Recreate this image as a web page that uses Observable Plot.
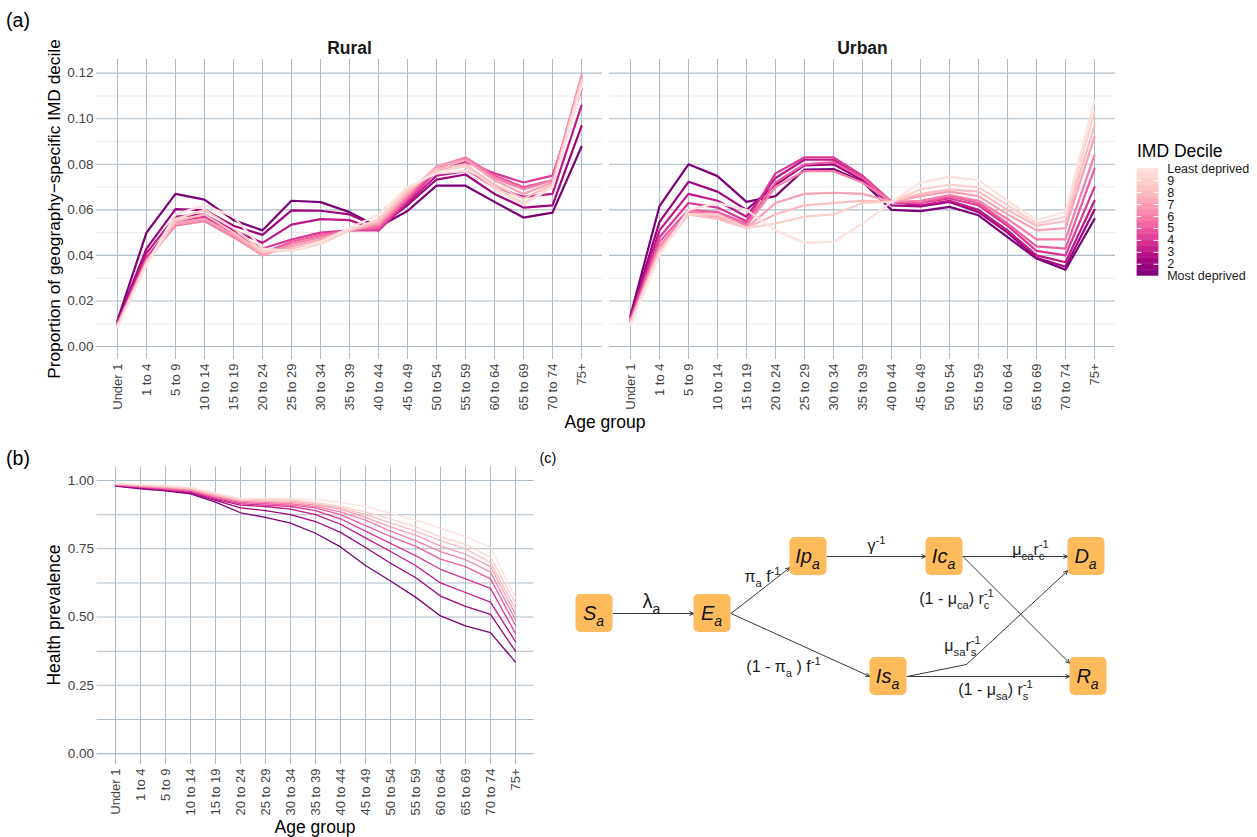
<!DOCTYPE html>
<html><head><meta charset="utf-8">
<script src="https://cdn.jsdelivr.net/npm/d3@7"></script>
<script src="https://cdn.jsdelivr.net/npm/@observablehq/plot@0.6"></script>
<style>
body{margin:0;background:#fff;}
#root{position:relative;width:1257px;height:837px;overflow:hidden;background:#fff;font-family:"Liberation Sans",Arial,Helvetica,sans-serif;color:#000;}
.abs{position:absolute;}
.lbl{position:absolute;white-space:nowrap;line-height:1;}
</style></head><body><div id="root"></div>
<script>
// ---------------- data ----------------
const ageGroups = ["Under 1","1 to 4","5 to 9","10 to 14","15 to 19","20 to 24","25 to 29","30 to 34","35 to 39","40 to 44","45 to 49","50 to 54","55 to 59","60 to 64","65 to 69","70 to 74","75+"];
const areas = ["Rural","Urban"];
const deciles = [1,2,3,4,5,6,7,8,9,10];
const decileLabels = ["Most deprived","2","3","4","5","6","7","8","9","Least deprived"];

// proportion of population by age group, one row per IMD decile (1 = most deprived)
const ruralShare = [
  [0.0115,0.050,0.067,0.0645,0.0555,0.051,0.064,0.0634,0.059,0.0525,0.0595,0.0706,0.0706,0.0635,0.0566,0.0588,0.0877],
  [0.0110,0.043,0.0603,0.0599,0.053,0.049,0.0598,0.0596,0.058,0.0525,0.062,0.0733,0.0755,0.067,0.061,0.062,0.0968],
  [0.0105,0.041,0.057,0.058,0.051,0.0455,0.0535,0.0559,0.0555,0.051,0.063,0.075,0.077,0.070,0.0657,0.067,0.1058],
  [0.0100,0.039,0.055,0.057,0.050,0.043,0.047,0.050,0.051,0.051,0.064,0.077,0.081,0.076,0.072,0.075,0.113],
  [0.0098,0.038,0.054,0.056,0.049,0.041,0.046,0.049,0.051,0.052,0.065,0.078,0.083,0.075,0.070,0.073,0.118],
  [0.0095,0.038,0.053,0.055,0.048,0.040,0.045,0.048,0.051,0.053,0.066,0.079,0.083,0.074,0.069,0.073,0.119],
  [0.0093,0.037,0.054,0.056,0.049,0.040,0.044,0.047,0.051,0.054,0.067,0.079,0.082,0.073,0.067,0.072,0.118],
  [0.0090,0.037,0.055,0.058,0.050,0.041,0.043,0.046,0.051,0.055,0.068,0.078,0.080,0.071,0.065,0.071,0.117],
  [0.0088,0.036,0.056,0.060,0.052,0.042,0.042,0.045,0.051,0.056,0.069,0.077,0.079,0.070,0.063,0.070,0.116],
  [0.0085,0.036,0.058,0.062,0.057,0.043,0.042,0.046,0.052,0.058,0.070,0.076,0.077,0.069,0.062,0.070,0.114]
];
const urbanShare = [
  [0.0136,0.0616,0.080,0.0748,0.0635,0.066,0.0777,0.0779,0.0723,0.060,0.0594,0.0613,0.0576,0.048,0.0386,0.0337,0.056],
  [0.0130,0.0547,0.0723,0.068,0.060,0.071,0.0795,0.080,0.073,0.062,0.0615,0.0635,0.059,0.050,0.039,0.035,0.060],
  [0.0125,0.051,0.067,0.064,0.057,0.074,0.082,0.082,0.074,0.0635,0.062,0.064,0.060,0.051,0.040,0.037,0.064],
  [0.0120,0.048,0.063,0.061,0.055,0.076,0.083,0.083,0.075,0.0635,0.063,0.065,0.062,0.053,0.042,0.040,0.070],
  [0.0115,0.046,0.060,0.059,0.054,0.072,0.080,0.081,0.074,0.0635,0.063,0.066,0.063,0.054,0.044,0.043,0.078],
  [0.0110,0.044,0.059,0.058,0.053,0.070,0.077,0.077,0.072,0.0635,0.064,0.0665,0.064,0.056,0.047,0.047,0.084],
  [0.0108,0.043,0.058,0.057,0.052,0.063,0.067,0.0675,0.067,0.0635,0.066,0.068,0.066,0.058,0.051,0.052,0.092],
  [0.0104,0.042,0.058,0.056,0.052,0.058,0.062,0.063,0.064,0.0635,0.067,0.069,0.068,0.060,0.053,0.055,0.097],
  [0.0100,0.041,0.058,0.058,0.052,0.054,0.057,0.058,0.063,0.0635,0.069,0.071,0.070,0.062,0.054,0.057,0.103],
  [0.0095,0.040,0.060,0.063,0.060,0.051,0.0455,0.046,0.054,0.0635,0.072,0.0745,0.073,0.064,0.0555,0.059,0.108]
];
// health prevalence by age group, one row per IMD decile
const healthPrevalence = [
  [0.980,0.970,0.962,0.951,0.921,0.882,0.865,0.844,0.807,0.757,0.689,0.632,0.573,0.504,0.468,0.443,0.335],
  [0.981,0.972,0.964,0.954,0.927,0.900,0.890,0.875,0.850,0.810,0.755,0.697,0.645,0.577,0.539,0.510,0.375],
  [0.982,0.974,0.966,0.957,0.931,0.910,0.905,0.895,0.875,0.840,0.790,0.740,0.689,0.625,0.590,0.555,0.410],
  [0.983,0.976,0.968,0.960,0.935,0.915,0.910,0.905,0.890,0.860,0.815,0.770,0.725,0.675,0.640,0.605,0.440],
  [0.984,0.977,0.970,0.962,0.938,0.920,0.915,0.910,0.900,0.875,0.835,0.795,0.760,0.712,0.685,0.640,0.470],
  [0.985,0.978,0.972,0.965,0.941,0.925,0.920,0.915,0.905,0.885,0.855,0.815,0.780,0.740,0.710,0.665,0.490],
  [0.986,0.980,0.975,0.968,0.945,0.925,0.925,0.920,0.910,0.895,0.865,0.830,0.800,0.760,0.730,0.685,0.510],
  [0.987,0.982,0.977,0.970,0.948,0.930,0.925,0.925,0.915,0.900,0.875,0.845,0.815,0.780,0.750,0.700,0.530],
  [0.988,0.984,0.979,0.972,0.951,0.930,0.930,0.930,0.920,0.905,0.885,0.860,0.830,0.795,0.765,0.720,0.550],
  [0.990,0.985,0.982,0.975,0.955,0.935,0.935,0.935,0.930,0.920,0.905,0.880,0.855,0.825,0.795,0.755,0.570]
];
const yTicksA = [0,0.02,0.04,0.06,0.08,0.10,0.12];
const yMinorA = [0.01,0.03,0.05,0.07,0.09,0.11];
const yTicksB = [0,0.25,0.5,0.75,1];
const yMinorB = [0.125,0.375,0.625,0.875];
const legendTicks = [2,3,4,5,6,7,8,9];

// compartment diagram (layout units)
const nodes = [
  {id:"S", label:"S_{a}", x:0, y:5.7},
  {id:"E", label:"E_{a}", x:11.8, y:5.7},
  {id:"Ip", label:"Ip_{a}", x:21.4, y:0},
  {id:"Ic", label:"Ic_{a}", x:35.0, y:0},
  {id:"D", label:"D_{a}", x:49.2, y:0},
  {id:"Is", label:"Is_{a}", x:29.4, y:12.0},
  {id:"R", label:"R_{a}", x:49.4, y:12.0}
];
const edges = [
  {from:"S", to:"E", toDy:0},
  {from:"E", to:"Ip", toDy:1.1},
  {from:"E", to:"Is", toDy:0},
  {from:"Ip", to:"Ic", toDy:0},
  {from:"Ic", to:"D", toDy:0},
  {from:"Ic", to:"R", toDy:-1.3},
  {from:"Is", to:"D", toDy:1.4, via:[37.2,10.8]},
  {from:"Is", to:"R", toDy:0}
];
const rateLabels = [
  {text:"π_{a} f^{-1}", x:16.8, y:2.0},
  {text:"(1 - π_{a} ) f^{-1}", x:18.9, y:11.0},
  {text:"γ^{-1}", x:28.2, y:-1.1},
  {text:"μ_{ca}r_{c}^{-1}", x:43.6, y:-0.7},
  {text:"(1 - μ_{ca}) r_{c}^{-1}", x:36.2, y:4.2},
  {text:"μ_{sa}r_{s}^{-1}", x:36.8, y:8.9},
  {text:"(1 - μ_{sa}) r_{s}^{-1}", x:40.1, y:13.3}
];
const infectionLabel = [{text:"λ_{a}", x:5.7, y:4.5}];

// ---------------- styles ----------------
const FONT = '"Liberation Sans", Arial, Helvetica, sans-serif';
const gridBlue = "#aebcc8";
const minorGrey = "#ececec";
const axisGrey = "#444444";
const boxFill = "#fdbb5c";
const decileColor = d => d3.interpolateRdPu(0.875 - (d - 1) / 9 * (0.875 - 0.11));

// ---------------- helpers ----------------
const root = document.getElementById("root");
function place(el, left, top) {
  const d = document.createElement("div");
  d.className = "abs"; d.style.left = left + "px"; d.style.top = top + "px";
  d.appendChild(el); root.appendChild(d); return d;
}
function label(str, x, y, {size = 16, anchor = "middle", rotate = 0, weight = "normal", color = "#000"} = {}) {
  const d = document.createElement("div");
  d.className = "lbl"; d.textContent = str;
  d.style.left = x + "px"; d.style.top = y + "px";
  d.style.fontSize = size + "px"; d.style.fontWeight = weight; d.style.color = color;
  const tx = anchor === "middle" ? "-50%" : "0";
  d.style.transform = `translate(${tx},-50%)`;
  if (rotate) { d.style.transformOrigin = "0 0"; d.style.transform = `rotate(${rotate}deg) translate(-50%,-50%)`; }
  root.appendChild(d); return d;
}

// ---------------- panel (a) ----------------
const rowsA = [];
[[areas[0], ruralShare], [areas[1], urbanShare]].forEach(([area, table]) =>
  table.forEach((vals, i) => vals.forEach((v, j) =>
    rowsA.push({area, decile: deciles[i], age: ageGroups[j], value: v}))));

const plotA = Plot.plot({
  width: 1120, height: 440,
  marginTop: 59, marginBottom: 81, marginLeft: 96, marginRight: 5,
  style: {fontFamily: FONT, fontSize: "13px", background: "transparent", overflow: "visible"},
  fx: {domain: areas, paddingInner: 0.0142, paddingOuter: 0, label: null},
  x: {type: "point", domain: ageGroups, padding: 0.6, label: null},
  y: {domain: [-0.0057, 0.126], label: null},
  marks: [
    Plot.ruleY(yMinorA, {stroke: minorGrey, strokeWidth: 1.1}),
    Plot.ruleY(yTicksA, {stroke: gridBlue, strokeWidth: 1.1}),
    Plot.ruleX(ageGroups, {stroke: gridBlue, strokeWidth: 1.1}),
    Plot.line(rowsA, {x: "age", y: "value", z: "decile", fx: "area", stroke: d => decileColor(d.decile), strokeWidth: 2.2, strokeLinejoin: "round"}),
    Plot.axisY({ticks: yTicksA, tickFormat: d3.format(".2f"), tickSize: 0, tickPadding: 3, label: null, fill: axisGrey, fontSize: 13.5}),
    Plot.axisX({tickRotate: -90, tickSize: 0, tickPadding: 4, label: null, fill: axisGrey, fontSize: 13}),
    Plot.axisFx({anchor: "top", tickSize: 0, tickPadding: 6, label: null, fontSize: 17.5, fontWeight: "bold", fill: "#1a1a1a"})
  ]
});
place(plotA, 0, 0);

// ---------------- panel (b) ----------------
const rowsB = [];
healthPrevalence.forEach((vals, i) => vals.forEach((v, j) =>
  rowsB.push({decile: deciles[i], age: ageGroups[j], value: v})));

const plotB = Plot.plot({
  width: 540, height: 397,
  marginTop: 26.4, marginBottom: 73, marginLeft: 96.5, marginRight: 6.5,
  style: {fontFamily: FONT, fontSize: "13px", background: "transparent", overflow: "visible"},
  x: {type: "point", domain: ageGroups, padding: 0.6, label: null},
  y: {domain: [-0.04, 1.05], label: null},
  marks: [
    Plot.ruleY(yMinorB, {stroke: gridBlue, strokeWidth: 1.1}),
    Plot.ruleY(yTicksB, {stroke: gridBlue, strokeWidth: 1.1}),
    Plot.ruleX(ageGroups, {stroke: gridBlue, strokeWidth: 1.1}),
    Plot.line(rowsB, {x: "age", y: "value", z: "decile", stroke: d => decileColor(d.decile), strokeWidth: 1.3, strokeLinejoin: "round"}),
    Plot.axisY({ticks: yTicksB, tickFormat: d3.format(".2f"), tickSize: 0, tickPadding: 3, label: null, fill: axisGrey, fontSize: 13.5}),
    Plot.axisX({tickRotate: -90, tickSize: 0, tickPadding: 4, label: null, fill: axisGrey, fontSize: 13})
  ]
});
place(plotB, 0, 440);

// ---------------- legend ----------------
const steps = d3.range(1, 10, 0.1);
const legend = Plot.plot({
  width: 127, height: 130, margin: 0,
  style: {fontFamily: FONT, background: "transparent", overflow: "visible"},
  x: {domain: [0, 1], range: [6.7, 28.3], axis: null},
  y: {domain: [1, 10], range: [115.7, 8.3], axis: null},
  marks: [
    Plot.rect(steps, {x1: 0, x2: 1, y1: d => d, y2: d => Math.min(10, d + 0.14), fill: d => decileColor(d + 0.05)}),
    Plot.ruleY(legendTicks, {x1: 0, x2: 0.22, stroke: "white", strokeWidth: 1}),
    Plot.ruleY(legendTicks, {x1: 0.78, x2: 1, stroke: "white", strokeWidth: 1}),
    Plot.text(deciles, {x: 1, y: d => d, text: d => decileLabels[d - 1], dx: 8.4, textAnchor: "start", fontSize: 12.5, fill: "#1a1a1a"})
  ]
});
place(legend, 1130, 160);
label("IMD Decile", 1137, 152, {size: 17.5, anchor: "start"});

// ---------------- panel (c) diagram ----------------
const hw = 1.85, hh = 1.9;
const byId = new Map(nodes.map(n => [n.id, n]));
const arrowSegs = [], plainSegs = [];
edges.forEach(e => {
  const a = byId.get(e.from), b = byId.get(e.to);
  const sx = a.x + hw, sy = a.y, ex = b.x - hw, ey = b.y + e.toDy;
  if (e.via) {
    plainSegs.push({x1: sx, y1: sy, x2: e.via[0], y2: e.via[1]});
    arrowSegs.push({x1: e.via[0], y1: e.via[1], x2: ex, y2: ey});
  } else arrowSegs.push({x1: sx, y1: sy, x2: ex, y2: ey});
});
const diagram = Plot.plot({
  width: 580, height: 200, margin: 0,
  style: {fontFamily: FONT, background: "transparent", overflow: "visible"},
  x: {domain: [-3.4, 54.6], range: [0, 580], axis: null},
  y: {domain: [-3.6, 16.4], range: [0, 200], axis: null},
  marks: [
    Plot.link(plainSegs, {x1: "x1", y1: "y1", x2: "x2", y2: "y2", stroke: "#3a3a3a", strokeWidth: 1}),
    Plot.arrow(arrowSegs, {x1: "x1", y1: "y1", x2: "x2", y2: "y2", stroke: "#3a3a3a", strokeWidth: 1, headLength: 7, headAngle: 45}),
    Plot.rect(nodes, {x1: d => d.x - hw, x2: d => d.x + hw, y1: d => d.y - hh, y2: d => d.y + hh, fill: boxFill, rx: 5}),
    Plot.text(nodes, {x: "x", y: "y", text: "label", fontSize: 20, fontStyle: "italic", fill: "#111", dx: -1}),
    Plot.text(rateLabels, {x: "x", y: "y", text: "text", fontSize: 16, fill: "#1a1a1a"}),
    Plot.text(infectionLabel, {x: "x", y: "y", text: "text", fontSize: 20, fill: "#1a1a1a"})
  ]
});
place(diagram, 560, 520);

// ---------------- titles ----------------
label("(a)", 18, 21, {size: 19.5});
label("(b)", 18, 459, {size: 19.5});
label("(c)", 548, 458, {size: 14.5});
label("Age group", 605, 423, {size: 17.5});
label("Age group", 315, 828, {size: 17.5});
label("Proportion of geography\u2212specific IMD decile", 55, 209, {size: 17.3, rotate: -90});
label("Health prevalence", 55, 615, {size: 17.5, rotate: -90});

// ---------------- rich text (sub/superscripts) ----------------
function richify(svg) {
  const ns = "http://www.w3.org/2000/svg";
  svg.querySelectorAll("text").forEach(t => {
    const s = t.textContent;
    if (!/[_^]\{/.test(s)) return;
    const fs = parseFloat(getComputedStyle(t).fontSize) || 15;
    const parts = [];
    const re = /([_^])\{([^}]*)\}/g;
    let last = 0, m;
    while ((m = re.exec(s))) {
      if (m.index > last) parts.push({type: "n", s: s.slice(last, m.index)});
      parts.push({type: m[1] === "_" ? "sub" : "sup", s: m[2]});
      last = re.lastIndex;
    }
    if (last < s.length) parts.push({type: "n", s: s.slice(last)});
    t.textContent = "";
    let cur = 0, prev = null, prevType = null;
    parts.forEach(p => {
      const ts = document.createElementNS(ns, "tspan");
      const target = p.type === "sub" ? 0.32 * fs : p.type === "sup" ? -0.42 * fs : 0;
      const dy = target - cur; cur = target;
      if (dy) ts.setAttribute("dy", dy);
      if (p.type !== "n") ts.setAttribute("font-size", 0.7 * fs);
      ts.textContent = p.s;
      t.appendChild(ts);
      if (p.type === "sup" && prevType === "sub" && prev) {
        const w = prev.getComputedTextLength();
        ts.setAttribute("dx", -w);
      }
      prev = ts; prevType = p.type;
    });
  });
}
richify(diagram);
</script></body></html>
